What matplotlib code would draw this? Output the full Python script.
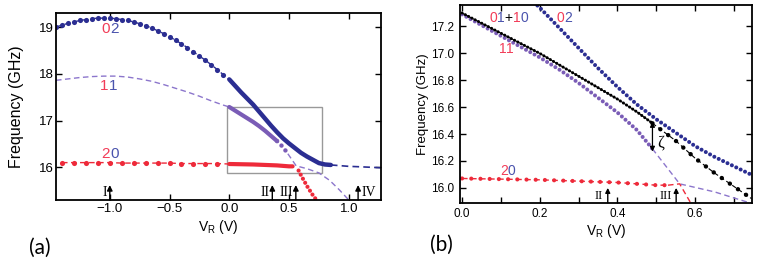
import numpy as np
import matplotlib
matplotlib.use('Agg')
import matplotlib.pyplot as plt
from matplotlib.patches import Rectangle
from matplotlib.ticker import MultipleLocator

plt.rcParams['font.family'] = ['Liberation Sans', 'DejaVu Sans']

# ---- data (V_R in V, frequency in GHz) ----
# mode 02, sparse measured part (V_R < 0)
x02_sparse = [-1.45, -1.40, -1.35, -1.30, -1.25, -1.20, -1.15, -1.10, -1.05, -1.00,
              -0.95, -0.90, -0.85, -0.80, -0.75, -0.70, -0.65, -0.60, -0.55, -0.50,
              -0.45, -0.40, -0.35, -0.30, -0.25, -0.20, -0.15, -0.10, -0.05]
f02_sparse = [19.00, 19.04, 19.08, 19.11, 19.14, 19.16, 19.18, 19.19, 19.19, 19.19,
              19.18, 19.16, 19.14, 19.11, 19.07, 19.03, 18.98, 18.92, 18.86, 18.79,
              18.72, 18.64, 18.56, 18.47, 18.38, 18.29, 18.19, 18.09, 17.98]
# mode 02, dense measured part
x02_dense = [0.00, 0.05, 0.10, 0.15, 0.20, 0.25, 0.30, 0.35, 0.40, 0.45, 0.50,
             0.55, 0.60, 0.65, 0.70, 0.75, 0.80, 0.85]
f02_dense = [17.88, 17.74, 17.60, 17.47, 17.34, 17.19, 17.04, 16.89, 16.75, 16.62, 16.51,
             16.41, 16.31, 16.23, 16.16, 16.09, 16.06, 16.05]
# mode 02, model beyond the data
x02_model = [0.85, 1.00, 1.10, 1.27]
f02_model = [16.05, 16.02, 16.01, 15.99]

# mode 11, model (V_R < 0)
x11_model = [-1.45, -1.35, -1.25, -1.15, -1.05, -0.95, -0.85, -0.75, -0.65, -0.55,
             -0.45, -0.35, -0.25, -0.15, -0.05, 0.00]
f11_model = [17.86, 17.89, 17.92, 17.94, 17.95, 17.95, 17.93, 17.89, 17.84, 17.77,
             17.69, 17.61, 17.52, 17.42, 17.33, 17.29]
# mode 11, measured
x11_dense = [0.00, 0.05, 0.10, 0.15, 0.20, 0.25, 0.30, 0.35, 0.40, 0.45, 0.49]
f11_dense = [17.29, 17.21, 17.13, 17.05, 16.97, 16.88, 16.78, 16.67, 16.56, 16.43, 16.29]
# mode 11, model after the crossing
x11_tail = [0.49, 0.56, 0.65, 0.75, 0.84, 0.92, 1.00]
f11_tail = [16.29, 16.03, 15.97, 15.88, 15.72, 15.52, 15.30]

# mode 20
x20_sparse = [-1.40, -1.30, -1.20, -1.10, -1.00, -0.90, -0.80, -0.70, -0.60, -0.50,
              -0.40, -0.30, -0.20, -0.10]
f20_sparse = [16.10, 16.10, 16.10, 16.10, 16.10, 16.09, 16.09, 16.09, 16.09, 16.09,
              16.08, 16.08, 16.08, 16.08]
x20_dense = [0.00, 0.10, 0.20, 0.30, 0.40, 0.45, 0.50, 0.53]
f20_dense = [16.07, 16.065, 16.06, 16.05, 16.04, 16.03, 16.02, 16.02]
x20_steep = [0.56, 0.58, 0.60, 0.65, 0.70, 0.73]
f20_steep = [16.03, 15.93, 15.83, 15.60, 15.40, 15.30]

# mode 01+10 (panel b only)
x0110_dense = [0.00, 0.05, 0.10, 0.15, 0.20, 0.25, 0.30, 0.35, 0.40, 0.45, 0.49]
f0110_dense = [17.30, 17.225, 17.15, 17.075, 17.00, 16.915, 16.83, 16.745, 16.66, 16.565, 16.48]
x0110_sparse = [0.49, 0.55, 0.60, 0.65, 0.70, 0.745]
f0110_sparse = [16.48, 16.35, 16.22, 16.11, 16.01, 15.92]

markers_a = [('I', -1.00, 'right'), ('II', 0.36, 'right'), ('III', 0.557, 'right'), ('IV', 1.078, 'left')]
markers_b = [('II', 0.375), ('III', 0.551)]

BLUE = '#2b2e92'
PURPLE = '#7a5cb6'
PURPLE_D = '#8c76cc'
RED = '#ee2a3a'
T_RED = '#f23c58'
T_BLUE = '#4a53ad'


def dots(ax, x, y, c, size, gap, **kw):
    ax.plot(x, y, color=c, lw=size, linestyle=(0, (0.01, gap)),
            dash_capstyle='round', **kw)


def dashed(ax, x, y, c, lw=1.0, **kw):
    ax.plot(x, y, color=c, lw=lw, dashes=(4, 2.5), **kw)


def rainbow(ax, x, y, parts, fs):
    t = ax.text(x, y, parts[0][0], color=parts[0][1], fontsize=fs, ha='left', va='center')
    for s, c in parts[1:]:
        t = ax.annotate(s, xy=(1, 0), xycoords=t, va='bottom', ha='left',
                        color=c, fontsize=fs)


def style(ax, fs):
    ax.tick_params(direction='in', top=True, right=True, length=4, width=1,
                   labelsize=fs)
    for sp in ax.spines.values():
        sp.set_linewidth(1.3)


fig = plt.figure(figsize=(7.63, 2.75), dpi=100)
axa = fig.add_axes([0.0734, 0.2727, 0.426, 0.68])
axb = fig.add_axes([0.603, 0.263, 0.382, 0.719])

# ---------------- panel (a) ----------------
ax = axa
dashed(ax, x11_model, f11_model, PURPLE_D)
dashed(ax, x11_tail, f11_tail, PURPLE_D)
dashed(ax, x02_sparse + [0.0], f02_sparse + [17.88], BLUE)
ax.plot(x02_sparse, f02_sparse, 'o', color=BLUE, ms=3.7, mew=0)
dashed(ax, x02_model, f02_model, BLUE, lw=1.2)
dashed(ax, x20_sparse + [0.0], f20_sparse + [16.07], RED)
ax.plot(x20_sparse, f20_sparse, 'o', color=RED, ms=3.7, mew=0)
ax.plot(x02_dense, f02_dense, color=BLUE, lw=3.2, solid_capstyle='round')
ax.plot(x11_dense[:-2], f11_dense[:-2], color=PURPLE, lw=3.0, solid_capstyle='round')
dots(ax, x11_dense[-3:], f11_dense[-3:], PURPLE, 3.2, 1.4)
ax.plot(x20_dense, f20_dense, color=RED, lw=3.0, solid_capstyle='round')
dots(ax, x20_steep[1:], f20_steep[1:], RED, 3.0, 1.1)
ax.add_patch(Rectangle((-0.02, 15.88), 0.80, 1.42, fill=False, ec='#999999', lw=1.0))

for s, xv, side in markers_a:
    ax.annotate('', xy=(xv, 15.62), xytext=(xv, 15.30),
                arrowprops=dict(arrowstyle='-|>', color='k', lw=1.0, mutation_scale=8,
                                shrinkA=0, shrinkB=0))
    off = -0.025 if side == 'right' else 0.025
    ax.text(xv + off, 15.46, s, ha=side, va='center', fontsize=10,
            family='Liberation Serif')

rainbow(ax, -1.07, 18.95, [('0', T_RED), ('2', T_BLUE)], 11)
rainbow(ax, -1.08, 17.73, [('1', T_RED), ('1', T_BLUE)], 11)
rainbow(ax, -1.07, 16.28, [('2', T_RED), ('0', T_BLUE)], 11)

ax.set_xlim(-1.45, 1.27)
ax.set_ylim(15.3, 19.3)
ax.set_xticks([-1.0, -0.5, 0.0, 0.5, 1.0])
ax.set_yticks([16, 17, 18, 19])
style(ax, 9.5)
ax.tick_params(axis='y', pad=1.5)
ax.tick_params(axis='x', pad=2)
ax.set_ylabel('Frequency (GHz)', fontsize=11.5, labelpad=11)
ax.set_xlabel(r'V$_\mathregular{R}$ (V)', fontsize=10, labelpad=2)

# ---------------- panel (b) ----------------
ax = axb
dashed(ax, x11_tail[:4], f11_tail[:4], PURPLE_D)
dashed(ax, [x20_dense[-1]] + x20_steep[:3], [f20_dense[-1]] + f20_steep[:3], RED)
dashed(ax, x20_dense, f20_dense, RED)
dots(ax, x20_dense, f20_dense, RED, 3.0, 2.2)
dots(ax, x02_dense, f02_dense, BLUE, 2.9, 1.2)
dots(ax, x11_dense, f11_dense, PURPLE, 2.9, 1.2)
ax.plot(x0110_dense, f0110_dense, color='k', lw=0.8)
dots(ax, x0110_dense, f0110_dense, 'k', 2.2, 1.2)
dashed(ax, x0110_sparse, f0110_sparse, 'k', lw=0.8)
dots(ax, x0110_sparse, f0110_sparse, 'k', 3.2, 2.2)

for s, xv in markers_b:
    ax.annotate('', xy=(xv, 16.0), xytext=(xv, 15.89),
                arrowprops=dict(arrowstyle='-|>', color='k', lw=1.0, mutation_scale=7,
                                shrinkA=0, shrinkB=0))
    ax.text(xv - 0.012, 15.94, s, ha='right', va='center', fontsize=9,
            family='Liberation Serif')

ax.annotate('', xy=(0.49, 16.49), xytext=(0.49, 16.27),
            arrowprops=dict(arrowstyle='<|-|>', color='k', lw=0.9, mutation_scale=7,
                            shrinkA=0, shrinkB=0))
ax.text(0.503, 16.34, 'ζ', fontsize=12, ha='left', va='center',
        family='Liberation Serif')

rainbow(ax, 0.07, 17.265, [('0', T_RED), ('1', T_BLUE), ('+', 'k'), ('1', T_RED), ('0', T_BLUE)], 10)
rainbow(ax, 0.243, 17.265, [('0', T_RED), ('2', T_BLUE)], 10)
rainbow(ax, 0.094, 17.03, [('1', T_RED), ('1', T_RED)], 10)
rainbow(ax, 0.098, 16.124, [('2', T_RED), ('0', T_BLUE)], 10)

ax.set_xlim(-0.005, 0.745)
ax.set_ylim(15.89, 17.36)
ax.xaxis.set_major_locator(MultipleLocator(0.2))
ax.xaxis.set_minor_locator(MultipleLocator(0.1))
ax.set_yticks([16.0, 16.2, 16.4, 16.6, 16.8, 17.0, 17.2])
style(ax, 8.5)
ax.tick_params(which='minor', direction='in', top=True, length=4, width=1)
ax.xaxis.set_major_formatter(plt.FuncFormatter(lambda v, p: f'{v:.1f}'))
ax.yaxis.set_major_formatter(plt.FuncFormatter(lambda v, p: f'{v:.1f}'))
ax.tick_params(axis='y', pad=4)
ax.tick_params(axis='x', pad=4)
ax.set_ylabel('Frequency (GHz)', fontsize=9.5, labelpad=2)
ax.set_xlabel(r'V$_\mathregular{R}$ (V)', fontsize=10, labelpad=1)

fig.text(0.052, 0.098, '(a)', fontsize=15, family='Lato', ha='center', va='center')
fig.text(0.579, 0.109, '(b)', fontsize=15, family='Lato', ha='center', va='center')

fig.savefig('out.png', dpi=100)
